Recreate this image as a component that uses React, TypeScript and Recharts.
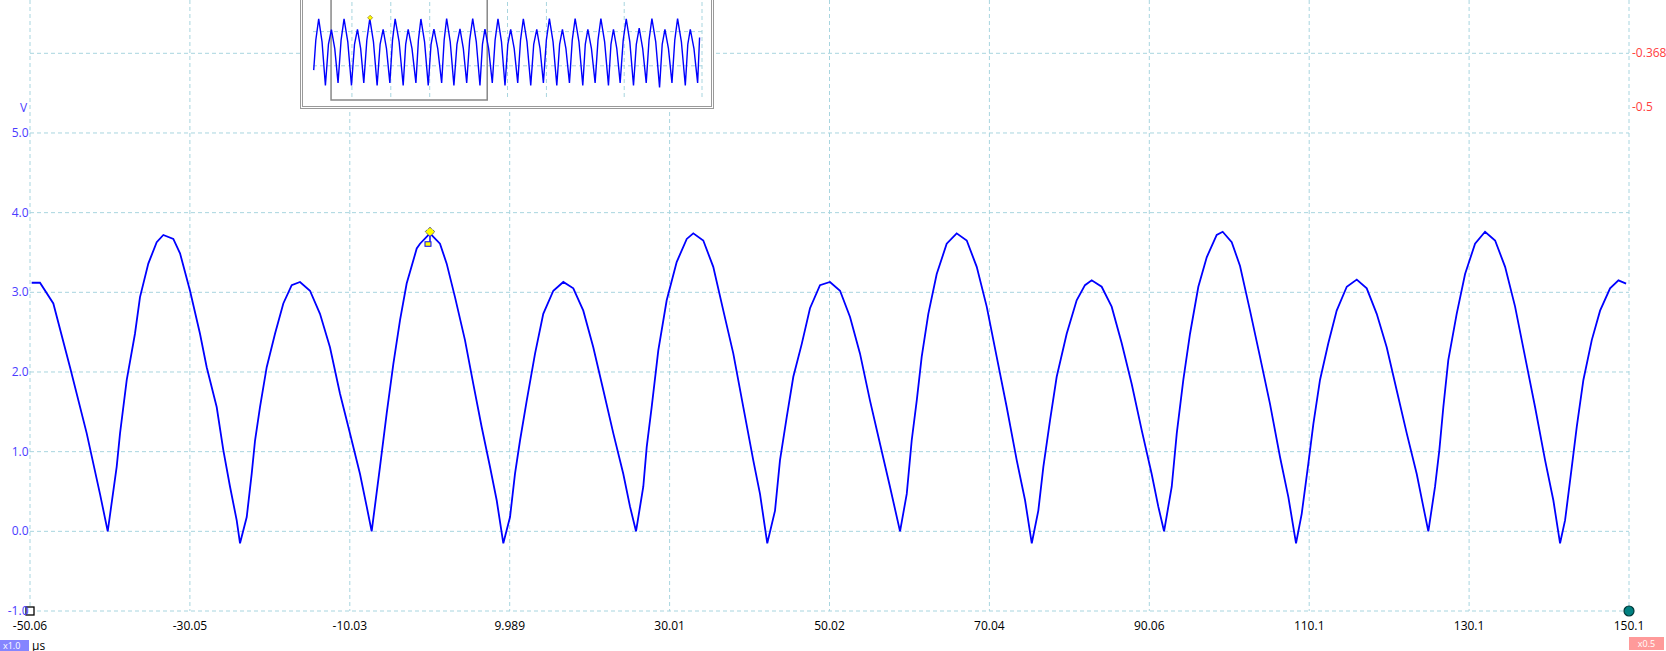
import {
  CartesianGrid,
  Line,
  LineChart,
  ReferenceArea,
  ReferenceDot,
  XAxis,
  YAxis,
} from 'recharts';

// main view: time axis in µs, volts on the left, channel B offset on the right
const TIME_DOMAIN = [-50.06, 150.1];
const TIME_TICKS = [
  -50.06, -30.044, -10.028, 9.988, 30.004, 50.02, 70.036, 90.052, 110.068, 130.084, 150.1,
];
const TIME_LABELS = [
  '-50.06', '-30.05', '-10.03', '9.989', '30.01', '50.02', '70.04', '90.06', '110.1', '130.1', '150.1',
];
const VOLT_DOMAIN = [-1, 6.669];
const VOLT_TICKS = [-1, 0, 1, 2, 3, 4, 5, 6];
const RIGHT_DOMAIN = [-1.7467, -0.2362];
const RIGHT_TICKS = [-0.368, -0.5];

// [time µs, volts]
const TRACE: [number, number][] = [
  [-49.85, 3.12], [-48.81, 3.12], [-47.14, 2.86], [-45.05, 2.06], [-42.96, 1.23], [-41.3, 0.47],
  [-40.33, 0.0], [-39.21, 0.81], [-38.79, 1.23], [-37.95, 1.9], [-36.92, 2.48], [-36.29, 2.94],
  [-35.25, 3.36], [-34.2, 3.63], [-33.37, 3.72], [-32.12, 3.67], [-31.28, 3.49], [-30.03, 3.02],
  [-28.78, 2.48], [-27.94, 2.06], [-26.69, 1.56], [-25.86, 1.02], [-25.02, 0.56], [-24.19, 0.14],
  [-23.77, -0.15], [-22.93, 0.18], [-22.31, 0.72], [-21.89, 1.14], [-21.27, 1.56], [-20.43, 2.06],
  [-19.39, 2.48], [-18.35, 2.86], [-17.3, 3.09], [-16.26, 3.13], [-15.01, 3.02], [-13.76, 2.73],
  [-12.51, 2.31], [-11.26, 1.73], [-10.01, 1.23], [-8.75, 0.72], [-7.91, 0.31], [-7.29, 0.0],
  [-6.25, 0.81], [-5.41, 1.48], [-4.58, 2.1], [-3.74, 2.65], [-2.91, 3.11], [-1.65, 3.55],
  [-1.24, 3.61], [0.01, 3.74], [1.26, 3.61], [2.1, 3.36], [3.14, 2.94], [4.39, 2.4],
  [5.43, 1.85], [6.48, 1.31], [7.52, 0.81], [8.36, 0.39], [9.19, -0.15], [10.03, 0.18],
  [10.65, 0.72], [11.28, 1.14], [12.12, 1.64], [13.16, 2.23], [14.19, 2.73], [15.45, 3.02],
  [16.7, 3.13], [17.95, 3.05], [19.2, 2.77], [20.45, 2.31], [21.71, 1.77], [22.96, 1.23],
  [24.21, 0.72], [25.05, 0.31], [25.8, 0.0], [26.71, 0.56], [27.14, 1.06], [27.76, 1.56],
  [28.59, 2.27], [29.64, 2.9], [30.89, 3.38], [32.15, 3.67], [32.97, 3.74], [34.22, 3.65],
  [35.47, 3.32], [36.73, 2.77], [37.98, 2.23], [39.23, 1.56], [40.48, 0.89], [41.32, 0.47],
  [42.23, -0.15], [43.2, 0.26], [43.82, 0.89], [44.66, 1.43], [45.49, 1.94], [46.54, 2.35],
  [47.58, 2.8], [48.83, 3.09], [50.08, 3.13], [51.34, 3.02], [52.59, 2.69], [53.84, 2.23],
  [55.09, 1.64], [56.34, 1.1], [57.59, 0.56], [58.85, 0.0], [59.69, 0.47], [60.31, 1.14],
  [60.94, 1.64], [61.56, 2.19], [62.39, 2.73], [63.44, 3.23], [64.69, 3.61], [65.94, 3.74],
  [67.2, 3.65], [68.45, 3.32], [69.7, 2.82], [70.95, 2.19], [72.2, 1.56], [73.46, 0.89],
  [74.5, 0.39], [75.34, -0.15], [76.16, 0.26], [76.79, 0.81], [77.62, 1.39], [78.46, 1.94],
  [79.71, 2.48], [80.96, 2.9], [82.0, 3.09], [82.84, 3.15], [84.09, 3.07], [85.34, 2.82],
  [86.6, 2.36], [87.85, 1.85], [89.1, 1.27], [90.35, 0.72], [91.18, 0.31], [91.9, 0.0],
  [92.86, 0.56], [93.49, 1.23], [94.31, 1.9], [95.15, 2.48], [96.19, 3.07], [97.24, 3.44],
  [98.49, 3.72], [99.24, 3.76], [100.37, 3.63], [101.41, 3.33], [102.66, 2.77], [103.91, 2.19],
  [105.16, 1.6], [106.42, 0.93], [107.46, 0.43], [108.42, -0.15], [109.13, 0.22], [109.96, 0.85],
  [110.59, 1.35], [111.42, 1.9], [112.46, 2.36], [113.51, 2.77], [114.77, 3.07], [116.02, 3.16],
  [117.27, 3.05], [118.52, 2.73], [119.77, 2.31], [121.02, 1.77], [122.28, 1.23], [123.53, 0.72],
  [124.35, 0.31], [124.98, 0.0], [125.82, 0.56], [126.36, 1.02], [126.86, 1.56], [127.48, 2.15],
  [128.53, 2.73], [129.58, 3.23], [130.83, 3.61], [132.08, 3.76], [133.34, 3.65], [134.59, 3.32],
  [135.84, 2.82], [137.09, 2.19], [138.34, 1.56], [139.6, 0.89], [140.63, 0.39], [141.47, -0.15],
  [142.1, 0.14], [142.94, 0.81], [143.56, 1.31], [144.39, 1.9], [145.44, 2.4], [146.48, 2.77],
  [147.73, 3.05], [148.78, 3.15], [149.74, 3.11],
];

const TRIGGER_T = 0.01;
const TRIGGER_V = 3.76;

// overview strip (whole capture)
const OVERVIEW_DOMAIN = [-73.2, 425.4];
const OVERVIEW_TICKS = [-73.2, -23.3, 26.5, 76.4, 126.2, 176.1, 226.0, 275.8, 325.7, 375.5, 425.4];
const OVERVIEW_VOLT_DOMAIN = [-1, 5.96];
const OVERVIEW_VOLT_TICKS = [-1, 0, 1, 2, 3, 4, 5];
const OVERVIEW_TRACE: [number, number][] = [
  [-72.3, 0.75], [-69.6, 2.5], [-65.9, 3.74], [-61.6, 2.4], [-57.3, -0.15], [-53.4, 2.25],
  [-49.6, 3.12], [-45.3, 2.0], [-41.1, 0], [-37.2, 2.5], [-33.4, 3.74], [-28.6, 2.4],
  [-23.9, -0.15], [-20.0, 2.25], [-16.2, 3.13], [-12.1, 2.0], [-8.1, 0], [-4.2, 2.5],
  [-0.4, 3.76], [4.3, 2.4], [9.0, -0.15], [12.8, 2.25], [16.7, 3.13], [21.0, 2.0],
  [25.3, 0], [28.7, 2.5], [32.1, 3.74], [37.2, 2.4], [42.4, -0.15], [45.6, 2.25],
  [48.8, 3.13], [53.7, 2.0], [58.7, 0], [61.9, 2.5], [65.1, 3.74], [69.8, 2.4],
  [74.5, -0.15], [78.1, 2.25], [81.8, 3.15], [86.7, 2.0], [91.7, 0], [94.9, 2.5],
  [98.1, 3.76], [102.7, 2.4], [107.4, -0.15], [111.3, 2.25], [115.2, 3.16], [119.5, 2.0],
  [123.8, 0], [127.6, 2.5], [131.5, 3.76], [136.1, 2.4], [140.8, -0.15], [144.0, 2.25],
  [147.2, 3.15], [151.9, 2.0], [156.6, 0], [160.2, 2.5], [163.9, 3.74], [168.4, 2.4],
  [172.9, -0.15], [176.5, 2.25], [180.2, 3.13], [184.7, 2.0], [189.2, 0], [192.8, 2.5],
  [196.4, 3.74], [201.1, 2.4], [205.9, -0.15], [209.7, 2.25], [213.6, 3.13], [217.8, 2.0],
  [222.1, 0], [225.9, 2.5], [229.8, 3.76], [234.5, 2.4], [239.3, -0.15], [242.9, 2.25],
  [246.5, 3.13], [251.0, 2.0], [255.5, 0], [259.1, 2.5], [262.8, 3.76], [267.7, 2.4],
  [272.6, -0.15], [275.8, 2.25], [279.1, 3.13], [283.7, 2.0], [288.4, 0], [292.1, 2.5],
  [295.8, 3.76], [300.6, 2.4], [305.5, -0.15], [308.7, 2.25], [311.9, 3.13], [316.2, 2.0],
  [320.5, 0], [324.4, 2.5], [328.3, 3.74], [332.9, 2.4], [337.6, -0.15], [341.2, 2.25],
  [344.9, 3.2], [349.4, 2.0], [353.9, 0], [357.5, 2.5], [361.2, 3.76], [366.1, 2.4],
  [371.0, -0.26], [374.4, 2.25], [377.9, 3.13], [382.4, 2.0], [386.9, 0], [390.5, 2.5],
  [394.1, 3.76], [399.0, 2.4], [404.0, -0.15], [407.2, 2.25], [410.4, 3.13], [415.1, 2.0],
  [419.8, 0], [422.3, 2.66],
];
const OVERVIEW_MARK_V = 3.81;

const FONT = '"Open Sans", "Noto Sans", sans-serif';
const GRID = '#a8d5df';
const TRACE_BLUE = '#0000ff';
const VOLT_COLOR = '#4b3cff';

const mainData = TRACE.map(([t, v]) => ({ t, v }));
const overviewData = OVERVIEW_TRACE.map(([t, v]) => ({ t, v }));

function TimeTick({ x, index }: any) {
  return (
    <text x={x} y={630} textAnchor="middle" fontSize={12} fontFamily={FONT} fill="#000">
      {TIME_LABELS[index]}
    </text>
  );
}

function VoltTick({ y, payload }: any) {
  if (payload.value === 6) return <g />;
  return (
    <text x={28.5} y={y + 4} textAnchor="end" fontSize={12} fontFamily={FONT} fill={VOLT_COLOR}>
      {payload.value.toFixed(1)}
    </text>
  );
}

function RightTick({ y, payload }: any) {
  return (
    <text x={1632} y={y + 4} textAnchor="start" fontSize={12} fontFamily={FONT} fill="#ff4040">
      {String(payload.value)}
    </text>
  );
}

function TriggerMark({ cx, cy }: any) {
  return (
    <g>
      <line x1={cx} y1={cy + 4} x2={cx} y2={cy + 10} stroke={TRACE_BLUE} strokeWidth={1.5} />
      <rect x={cx - 5} y={cy + 10} width={6} height={4.5} fill="#ffff00" stroke={TRACE_BLUE} strokeWidth={1} />
      <polygon
        points={`${cx},${cy - 4.5} ${cx + 5},${cy} ${cx},${cy + 4.5} ${cx - 5},${cy}`}
        fill="#ffff00"
        stroke="#20208a"
        strokeWidth={1}
        strokeDasharray="1 1"
      />
    </g>
  );
}

function SmallDiamond({ cx, cy }: any) {
  return (
    <polygon
      points={`${cx},${cy - 2.5} ${cx + 2.5},${cy} ${cx},${cy + 2.5} ${cx - 2.5},${cy}`}
      fill="#ffff00"
      stroke="#806000"
      strokeWidth={0.6}
    />
  );
}

function StartMark({ cx, cy }: any) {
  return <rect x={cx - 4} y={cy - 4} width={8} height={8} fill="#fff" stroke="#000" strokeWidth={1.3} />;
}

function EndMark({ cx, cy }: any) {
  return <circle cx={cx} cy={cy} r={5} fill="#008080" stroke="#003838" strokeWidth={1.2} />;
}

function Overview() {
  return (
    <div
      style={{
        position: 'absolute',
        left: 300,
        top: -22,
        width: 414,
        height: 131,
        boxSizing: 'border-box',
        border: '3px double #999',
        background: '#fff',
      }}
    >
      <LineChart
        width={408}
        height={125}
        data={overviewData}
        margin={{ top: 0, right: 9, bottom: 6, left: 10 }}
      >
        <CartesianGrid
          stroke={GRID}
          strokeDasharray="4 3"
          horizontalValues={OVERVIEW_VOLT_TICKS}
          verticalValues={OVERVIEW_TICKS}
        />
        <XAxis
          type="number"
          dataKey="t"
          domain={OVERVIEW_DOMAIN}
          ticks={OVERVIEW_TICKS}
          allowDataOverflow
          hide
        />
        <YAxis
          type="number"
          domain={OVERVIEW_VOLT_DOMAIN}
          ticks={OVERVIEW_VOLT_TICKS}
          allowDataOverflow
          hide
        />
        <ReferenceArea
          x1={TIME_DOMAIN[0]}
          x2={TIME_DOMAIN[1]}
          y1={OVERVIEW_VOLT_DOMAIN[0]}
          y2={OVERVIEW_VOLT_DOMAIN[1]}
          fill="none"
          stroke="#888"
          strokeWidth={1.5}
        />
        <Line
          type="linear"
          dataKey="v"
          stroke={TRACE_BLUE}
          strokeWidth={1.4}
          dot={false}
          isAnimationActive={false}
        />
        <ReferenceDot x={0} y={OVERVIEW_MARK_V} shape={SmallDiamond} />
      </LineChart>
    </div>
  );
}

export default function App() {
  return (
    <div
      style={{
        position: 'fixed',
        left: 0,
        top: 0,
        width: 1666,
        height: 651,
        overflow: 'hidden',
        background: '#fff',
        fontFamily: FONT,
      }}
    >
      <div style={{ position: 'absolute', left: 0, top: 0 }}>
        <LineChart
          width={1666}
          height={651}
          data={mainData}
          margin={{ top: 0, right: 0, bottom: 0, left: 0 }}
        >
          <CartesianGrid
            yAxisId="left"
            stroke={GRID}
            strokeDasharray="4 3"
            horizontalValues={VOLT_TICKS}
            verticalValues={TIME_TICKS}
          />
          <XAxis
            type="number"
            dataKey="t"
            domain={TIME_DOMAIN}
            ticks={TIME_TICKS}
            allowDataOverflow
            height={40}
            axisLine={false}
            tickLine={false}
            tick={<TimeTick />}
            interval={0}
          />
          <YAxis
            yAxisId="left"
            type="number"
            domain={VOLT_DOMAIN}
            ticks={VOLT_TICKS}
            allowDataOverflow
            width={30}
            axisLine={false}
            tickLine={false}
            tick={<VoltTick />}
            interval={0}
          />
          <YAxis
            yAxisId="right"
            orientation="right"
            type="number"
            domain={RIGHT_DOMAIN}
            ticks={RIGHT_TICKS}
            allowDataOverflow
            width={37}
            axisLine={false}
            tickLine={false}
            tick={<RightTick />}
            interval={0}
          />
          <Line
            yAxisId="left"
            type="linear"
            dataKey="v"
            stroke={TRACE_BLUE}
            strokeWidth={1.8}
            dot={false}
            isAnimationActive={false}
          />
          <ReferenceDot yAxisId="left" x={TRIGGER_T} y={TRIGGER_V} shape={TriggerMark} />
          <ReferenceDot yAxisId="left" x={TIME_DOMAIN[0]} y={VOLT_DOMAIN[0]} shape={StartMark} />
          <ReferenceDot yAxisId="left" x={TIME_DOMAIN[1]} y={VOLT_DOMAIN[0]} shape={EndMark} />
        </LineChart>
      </div>

      <Overview />

      <span style={{ position: 'absolute', left: 20, top: 99, fontSize: 12, color: VOLT_COLOR }}>V</span>

      <div
        style={{
          position: 'absolute',
          left: 0,
          top: 640,
          width: 29,
          height: 11,
          background: '#8585ff',
          color: '#fff',
          fontSize: 9,
          lineHeight: '11px',
          paddingLeft: 3,
          boxSizing: 'border-box',
        }}
      >
        x1.0
      </div>
      <span style={{ position: 'absolute', left: 32, top: 637, fontSize: 12, color: '#000' }}>µs</span>
      <div
        style={{
          position: 'absolute',
          left: 1629,
          top: 637,
          width: 35,
          height: 13,
          background: '#ff9a9a',
          color: '#fff',
          fontSize: 9,
          lineHeight: '13px',
          textAlign: 'center',
        }}
      >
        x0.5
      </div>
    </div>
  );
}
